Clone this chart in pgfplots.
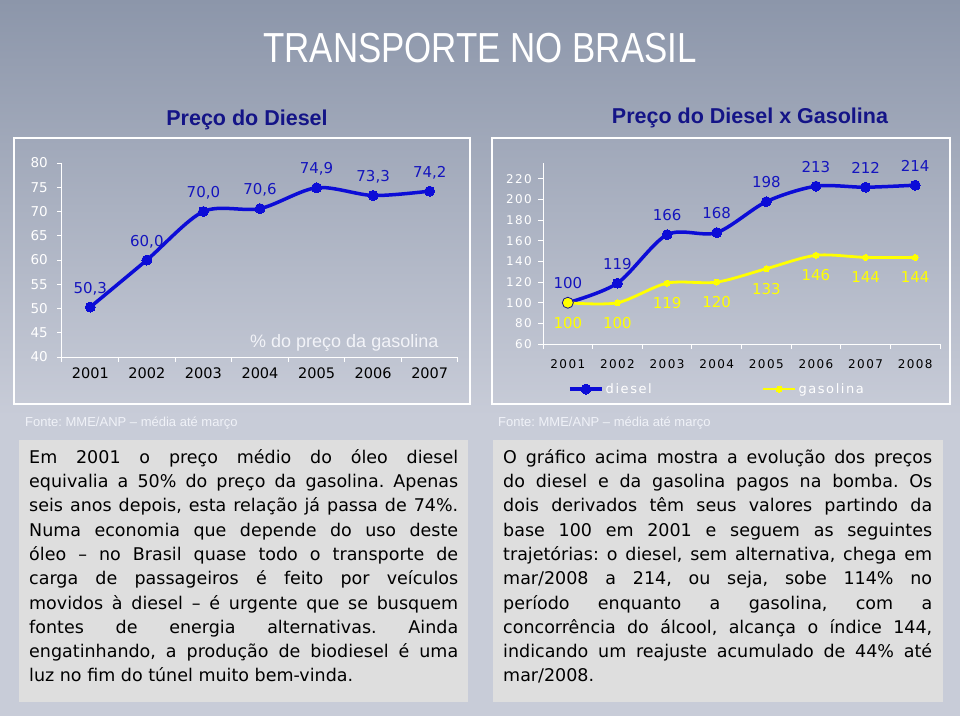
\documentclass[border=0pt]{standalone}
\usepackage{pgfplots}
\pgfplotsset{compat=1.18}
\usepackage{fontspec}
\setmainfont{DejaVu Sans}
\newfontfamily\dejavusp[LetterSpace=12]{DejaVu Sans}
\newfontfamily\arial{Liberation Sans}
\definecolor{bgtop}{RGB}{140,150,170}
\definecolor{bgbot}{RGB}{200,204,216}
\definecolor{dblue}{RGB}{12,12,215}
\definecolor{lblue}{RGB}{20,20,190}
\definecolor{navy}{RGB}{20,20,135}
\definecolor{gyellow}{RGB}{255,255,0}
\definecolor{boxgray}{RGB}{222,222,222}
\definecolor{fonte}{RGB}{240,242,248}
\begin{document}
\frenchspacing
\begin{tikzpicture}
\useasboundingbox (0pt,0pt) rectangle (960pt,716pt);
\fill[bgbot] (0pt,0pt) rectangle (960pt,716pt);
\shade[top color=bgtop, bottom color=bgbot] (0pt,300pt) rectangle (960pt,716pt);
% panels
\draw[white, line width=1.5pt] (14pt,312pt) rectangle (470pt,578pt);
\draw[white, line width=1.5pt] (492pt,312pt) rectangle (950pt,578pt);
\fill[boxgray] (19pt,14pt) rectangle (468pt,276pt);
\fill[boxgray] (493pt,14pt) rectangle (943pt,276pt);
% titles
\node[anchor=base, text=white, font=\arial\fontsize{42}{48}\selectfont, xscale=0.83, inner sep=0pt] at (480pt,653pt) {TRANSPORTE NO BRASIL};
\node[anchor=base, text=navy, font=\arial\bfseries\fontsize{21.5}{24}\selectfont, inner sep=0pt] at (247pt,590pt) {Preço do Diesel};
\node[anchor=base, text=navy, font=\arial\bfseries\fontsize{21.5}{24}\selectfont, inner sep=0pt] at (750pt,592pt) {Preço do Diesel x Gasolina};
\node[anchor=base west, text=fonte, font=\arial\fontsize{13}{15}\selectfont, inner sep=0pt] at (25pt,290pt) {Fonte: MME/ANP – média até março};
\node[anchor=base west, text=fonte, font=\arial\fontsize{13}{15}\selectfont, inner sep=0pt] at (498pt,290pt) {Fonte: MME/ANP – média até março};
\node[anchor=base west, text={rgb,255:red,242;green,243;blue,248}, font=\arial\fontsize{18}{20}\selectfont, inner sep=0pt] at (250pt,369pt) {\% do preço da gasolina};
% body texts
\node[anchor=north west, inner sep=0pt, text width=429pt, align=justify, font=\fontsize{17.5}{24.3}\selectfont] at (29pt,270pt) {\tolerance=10000 \hyphenpenalty=10000 \hbadness=10000 \strut Em 2001 o preço médio do óleo diesel\linebreak equivalia a 50\% do preço da gasolina. Apenas\linebreak seis anos depois, esta relação já passa de 74\%.\linebreak Numa economia que depende do uso deste\linebreak óleo – no Brasil quase todo o transporte de\linebreak carga de passageiros é feito por veículos\linebreak movidos à diesel – é urgente que se busquem\linebreak fontes de energia alternativas. Ainda\linebreak engatinhando, a produção de biodiesel é uma\linebreak luz no fim do túnel muito bem-vinda.};
\node[anchor=north west, inner sep=0pt, text width=429pt, align=justify, font=\fontsize{17.5}{24.3}\selectfont] at (503pt,270pt) {\tolerance=10000 \hyphenpenalty=10000 \hbadness=10000 \strut O gráfico acima mostra a evolução dos preços\linebreak do diesel e da gasolina pagos na bomba. Os\linebreak dois derivados têm seus valores partindo da\linebreak base 100 em 2001 e seguem as seguintes\linebreak trajetórias: o diesel, sem alternativa, chega em\linebreak mar/2008 a 214, ou seja, sobe 114\% no\linebreak período enquanto a gasolina, com a\linebreak concorrência do álcool, alcança o índice 144,\linebreak indicando um reajuste acumulado de 44\% até\linebreak mar/2008.};
% left chart
\begin{axis}[
  at={(62pt,359pt)}, anchor=south west, scale only axis,
  width=396pt, height=194pt,
  xmin=0.5, xmax=7.5, ymin=40, ymax=80,
  axis x line*=bottom, axis y line*=left,
  axis line style={white, line width=1pt, -},
  tick pos=left, tick align=outside, major tick length=5pt,
  tick style={white, line width=1pt},
  ytick={40,45,...,80},
  xtick={0.5,1.5,...,7.5}, xticklabels={},
  extra x ticks={1,2,3,4,5,6,7},
  extra x tick labels={2001,2002,2003,2004,2005,2006,2007},
  extra x tick style={major tick length=0pt},
  /pgf/number format/assume math mode=true,
  yticklabel style={text=white, font=\fontsize{13.5}{15}\selectfont, anchor=east, inner sep=0pt, xshift=-9pt},
  xticklabel style={text=black, font=\fontsize{14.5}{16}\selectfont, anchor=north, inner sep=0pt, yshift=-10.5pt},
  clip=false,
]
\addplot[smooth, dblue, line width=3.5pt, mark=*, mark size=5pt,
  mark options={solid, fill=dblue, draw=dblue, line width=0pt},
  nodes near coords, point meta=explicit symbolic,
  nodes near coords style={text=lblue, font=\fontsize{15}{17}\selectfont, anchor=base, inner sep=0pt, yshift=14pt}]
  coordinates {(1,50.3) [{50,3}] (2,60.0) [{60,0}] (3,70.0) [{70,0}] (4,70.6) [{70,6}] (5,74.9) [{74,9}] (6,73.3) [{73,3}] (7,74.2) [{74,2}]};
\end{axis}
% right chart
\begin{axis}[
  at={(543pt,372pt)}, anchor=south west, scale only axis,
  width=397pt, height=181pt,
  xmin=0.5, xmax=8.5, ymin=60, ymax=235.5,
  axis x line*=bottom, axis y line*=left,
  axis line style={white, line width=1pt, -},
  tick pos=left, tick align=outside, major tick length=5pt,
  tick style={white, line width=1pt},
  ytick={60,80,...,220},
  xtick={0.5,1.5,...,8.5}, xticklabels={},
  extra x ticks={1,2,3,4,5,6,7,8},
  extra x tick labels={2001,2002,2003,2004,2005,2006,2007,2008},
  extra x tick style={major tick length=0pt},
  /pgf/number format/assume math mode=true,
  yticklabel style={text=white, font=\dejavusp\fontsize{12}{14}\selectfont, anchor=east, inner sep=0pt, xshift=-6pt},
  xticklabel style={text=black, font=\dejavusp\fontsize{12}{14}\selectfont, anchor=north, inner sep=0pt, yshift=-15.6pt},
  clip=false,
  legend style={at={(0.063,-0.249)}, anchor=west, draw=none, fill=none, inner sep=0pt,
    font=\dejavusp\fontsize{13}{15}\selectfont, text=white, nodes={text=white},
    legend columns=2, /tikz/every even column/.append style={column sep=108pt}},
  legend cell align=left,
  legend image code/.code={\draw[mark repeat=2,mark phase=2,#1] plot coordinates {(0pt,0pt) (16pt,0pt) (32pt,0pt)};},
]
\addplot[smooth, dblue, line width=3.5pt, mark=*, mark size=5pt,
  mark options={solid, fill=dblue, draw=dblue, line width=0pt},
  nodes near coords, point meta=explicit symbolic,
  nodes near coords style={text=lblue, font=\fontsize{15}{17}\selectfont, anchor=base, inner sep=0pt, yshift=14pt}]
  coordinates {(1,100) [100] (2,119) [119] (3,166) [166] (4,168) [168] (5,198) [198] (6,213) [213] (7,212) [212] (8,214) [214]};
\addlegendentry{diesel}
\addplot[smooth, gyellow, line width=2.8pt, mark=*, mark size=3pt,
  mark options={solid, fill=gyellow, draw=gyellow, line width=0pt},
  nodes near coords, point meta=explicit symbolic,
  nodes near coords style={text=gyellow, font=\fontsize{15}{17}\selectfont, anchor=base, inner sep=0pt, yshift=-25.5pt}]
  coordinates {(1,100) [100] (2,100) [100] (3,119) [119] (4,120) [120] (5,133) [133] (6,146) [146] (7,144) [144] (8,144) [144]};
\addlegendentry{gasolina}
\addplot[forget plot, only marks, mark=*, mark size=5.5pt, mark options={fill=gyellow, draw=navy, line width=0.8pt}] coordinates {(1,100)};
\end{axis}
\end{tikzpicture}
\end{document}
